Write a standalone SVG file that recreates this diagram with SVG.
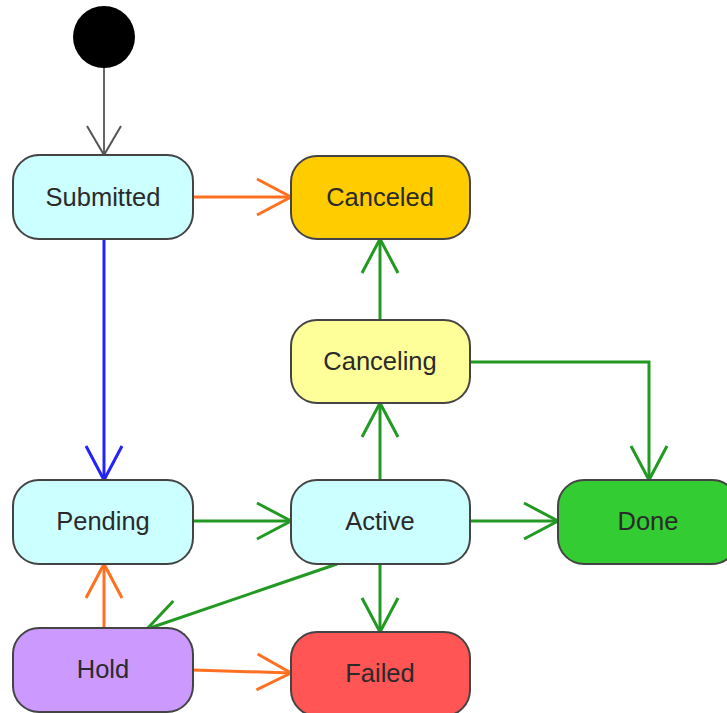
<svg xmlns="http://www.w3.org/2000/svg" width="727" height="713" viewBox="0 0 727 713">
<style>
.node rect{stroke:#444;stroke-width:2}
.node text{font-family:"Liberation Sans",Arial,sans-serif;font-size:25.5px;fill:#2a2a2a;text-anchor:middle}
.e{fill:none;stroke-width:3}
.gray{stroke:#666;stroke-width:2}
.orange{stroke:#FF7020}
.green{stroke:#229922}
.blue{stroke:#2222FF}
</style>
<defs>
<marker id="aGray" markerUnits="userSpaceOnUse" orient="auto" refX="0" refY="0" markerWidth="40" markerHeight="40" viewBox="-32 -20 36 40" overflow="visible"><path d="M-29,-17 L0,0 L-29,17" fill="none" stroke="#555" stroke-width="2"/></marker>
<marker id="aOrange" markerUnits="userSpaceOnUse" orient="auto" refX="0" refY="0" markerWidth="40" markerHeight="40" viewBox="-32 -20 36 40" overflow="visible"><path d="M-34,-18 L0,0 L-34,18" fill="none" stroke="#FF7020" stroke-width="3"/></marker>
<marker id="aGreen" markerUnits="userSpaceOnUse" orient="auto" refX="0" refY="0" markerWidth="40" markerHeight="40" viewBox="-32 -20 36 40" overflow="visible"><path d="M-34,-18 L0,0 L-34,18" fill="none" stroke="#229922" stroke-width="3"/></marker>
<marker id="aBlue" markerUnits="userSpaceOnUse" orient="auto" refX="0" refY="0" markerWidth="40" markerHeight="40" viewBox="-32 -20 36 40" overflow="visible"><path d="M-34,-18 L0,0 L-34,18" fill="none" stroke="#2222FF" stroke-width="3"/></marker>
</defs>
<rect width="727" height="713" fill="#fff"/>
<g id="connectors">
<path class="e gray" d="M104,68 L104,155" marker-end="url(#aGray)"/>
<path class="e orange" d="M193,197 L291,197" marker-end="url(#aOrange)"/>
<path class="e blue" d="M104,239 L104,480" marker-end="url(#aBlue)"/>
<path class="e green" d="M193,521 L291,521" marker-end="url(#aGreen)"/>
<path class="e green" d="M380,480 L380,403" marker-end="url(#aGreen)"/>
<path class="e green" d="M380,320 L380,239" marker-end="url(#aGreen)"/>
<path class="e green" d="M470,362 L649,362 L649,480" marker-end="url(#aGreen)"/>
<path class="e green" d="M470,521 L558,521" marker-end="url(#aGreen)"/>
<path class="e green" d="M380,564 L380,632" marker-end="url(#aGreen)"/>
<path class="e green" d="M337,564 L147,629" marker-end="url(#aGreen)"/>
<path class="e orange" d="M104,628 L104,564" marker-end="url(#aOrange)"/>
<path class="e orange" d="M193,670 L291,673" marker-end="url(#aOrange)"/>
</g>
<g id="start"><circle cx="104" cy="37" r="31" fill="#000"/></g>
<g id="submitted" class="node"><rect x="13" y="155" width="180" height="84" rx="26" fill="#CCFFFF"/><text x="103" y="206">Submitted</text></g>
<g id="canceled" class="node"><rect x="291" y="156" width="179" height="83" rx="26" fill="#FFCC00"/><text x="380" y="206">Canceled</text></g>
<g id="canceling" class="node"><rect x="291" y="320" width="179" height="83" rx="26" fill="#FFFF99"/><text x="380" y="370">Canceling</text></g>
<g id="pending" class="node"><rect x="13" y="480" width="180" height="84" rx="26" fill="#CCFFFF"/><text x="103" y="530">Pending</text></g>
<g id="active" class="node"><rect x="291" y="480" width="179" height="84" rx="26" fill="#CCFFFF"/><text x="380" y="530">Active</text></g>
<g id="done" class="node"><rect x="558" y="480" width="180" height="84" rx="26" fill="#33CC33"/><text x="648" y="530">Done</text></g>
<g id="hold" class="node"><rect x="13" y="628" width="180" height="84" rx="26" fill="#CC99FF"/><text x="103" y="678">Hold</text></g>
<g id="failed" class="node"><rect x="291" y="632" width="179" height="84" rx="26" fill="#FF5555"/><text x="380" y="682">Failed</text></g>
</svg>
